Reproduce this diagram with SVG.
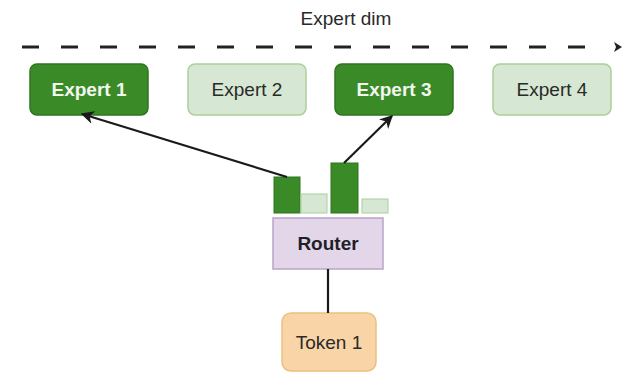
<svg xmlns="http://www.w3.org/2000/svg" width="628" height="373" viewBox="0 0 628 373">
  <style>
    text { font-family: "Liberation Sans", Arial, sans-serif; font-size: 19px; text-anchor: middle; dominant-baseline: central; }
    .dark rect { fill: #3a8a28; stroke: #2f7420; stroke-width: 1.5; }
    .dark text { fill: #f2f7ee; font-weight: bold; }
    .light rect { fill: #d6e8d3; stroke: #a9cf9c; stroke-width: 1.5; }
    .light text { fill: #2a2a2a; }
    .bar-dark { fill: #3a8a28; stroke: #2f7420; stroke-width: 1; }
    .bar-light { fill: #d6e8d3; stroke: #a9cf9c; stroke-width: 1; }
    .link { stroke: #1a1a1a; stroke-width: 2.2; fill: none; }
  </style>
  <defs>
    <marker id="arrow" viewBox="0 0 10 10" refX="9" refY="5" markerWidth="6" markerHeight="6" orient="auto">
      <path d="M0,0 L10,5 L0,10 L3,5 Z" fill="#1a1a1a"/>
    </marker>
  </defs>

  <!-- axis -->
  <g id="expert-dim">
    <text x="346" y="18" fill="#2a2a2a">Expert dim</text>
    <line x1="22" y1="47" x2="606" y2="47" stroke="#222" stroke-width="3" stroke-dasharray="17 22"/>
    <path d="M614,42 L622,47 L614,52 L616,47 Z" fill="#222"/>
  </g>

  <!-- experts -->
  <g id="expert1" class="dark">
    <rect x="30" y="64" width="118" height="51" rx="7"/>
    <text x="89" y="89.5">Expert 1</text>
  </g>
  <g id="expert2" class="light">
    <rect x="188" y="64" width="118" height="51" rx="7"/>
    <text x="247" y="89.5">Expert 2</text>
  </g>
  <g id="expert3" class="dark">
    <rect x="335" y="64" width="118" height="51" rx="7"/>
    <text x="394" y="89.5">Expert 3</text>
  </g>
  <g id="expert4" class="light">
    <rect x="493" y="64" width="118" height="51" rx="7"/>
    <text x="552" y="89.5">Expert 4</text>
  </g>

  <!-- router scores -->
  <g id="scores">
    <rect class="bar-dark" x="274" y="177" width="26" height="36"/>
    <rect class="bar-light" x="301" y="194" width="26" height="19"/>
    <rect class="bar-dark" x="331" y="163" width="27" height="50"/>
    <rect class="bar-light" x="362" y="199" width="26" height="14"/>
  </g>

  <g id="router">
    <rect x="273" y="218" width="110" height="51" fill="#e2d6e8" stroke="#b9a4c8" stroke-width="1.5"/>
    <text x="328" y="243.5" fill="#1f1f2a" font-weight="bold">Router</text>
  </g>

  <g id="token1">
    <rect x="282" y="313" width="94" height="58" rx="9" fill="#f9d4a6" stroke="#ecc07f" stroke-width="1.5"/>
    <text x="329" y="342" fill="#2a2a2a">Token 1</text>
  </g>

  <!-- connectors -->
  <g id="connectors">
    <line class="link" x1="287" y1="177" x2="82" y2="114" marker-end="url(#arrow)"/>
    <line class="link" x1="344" y1="163" x2="392" y2="116" marker-end="url(#arrow)"/>
    <line class="link" x1="328" y1="269" x2="328" y2="313"/>
  </g>
</svg>
